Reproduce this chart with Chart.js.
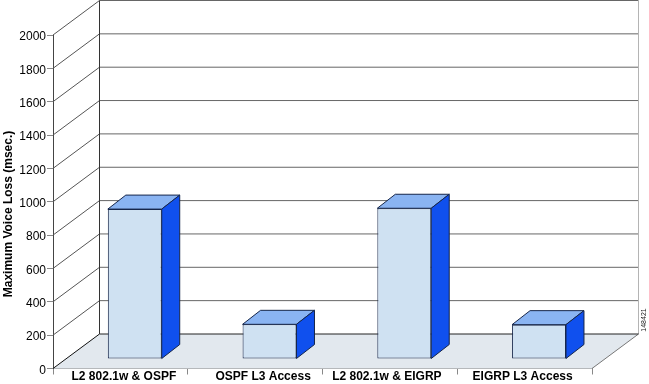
<!DOCTYPE html>
<html>
<head>
<meta charset="utf-8">
<style>
  html, body { margin: 0; padding: 0; background: #fff; }
  canvas { display: block; }
</style>
<script src="https://cdn.jsdelivr.net/npm/chart.js@4"></script>
</head>
<body>
<canvas id="grafico" width="649" height="384"></canvas>
<script>
const categories = ["L2 802.1w & OSPF", "OSPF L3 Access", "L2 802.1w & EIGRP", "EIGRP L3 Access"];
const voiceLoss = [899, 208, 904, 206];
const yTicks = [0, 200, 400, 600, 800, 1000, 1200, 1400, 1600, 1800, 2000];

// depth of the fake 3D box
const DEPTH_X = 46.5, DEPTH_Y = 34.5;
const BAR_OFF_X = 14.4, BAR_OFF_Y = 9.5;
const BAR_DX = 18, BAR_DY = 14;
// the original labels are not quite centred under their ticks
const LABEL_SHIFT = [3.5, 8, -3, -2];

function poly(ctx, pts, fill, stroke) {
  ctx.beginPath();
  pts.forEach((p, i) => i ? ctx.lineTo(p[0], p[1]) : ctx.moveTo(p[0], p[1]));
  ctx.closePath();
  if (fill) { ctx.fillStyle = fill; ctx.fill(); }
  if (stroke) { ctx.strokeStyle = stroke; ctx.lineWidth = 1; ctx.stroke(); }
}

function line(ctx, x1, y1, x2, y2, color) {
  ctx.beginPath();
  ctx.moveTo(x1, y1);
  ctx.lineTo(x2, y2);
  ctx.strokeStyle = color;
  ctx.lineWidth = 1;
  ctx.stroke();
}

// floor, walls and grid lines behind the bars
const walls = {
  id: "walls",
  beforeDatasetsDraw(chart) {
    const { ctx, chartArea: a, scales: { y } } = chart;
    const y0 = y.getPixelForValue(0);
    const topBack = y.getPixelForValue(2000) - DEPTH_Y;
    ctx.save();
    poly(ctx, [[a.left, y0], [a.left + DEPTH_X, y0 - DEPTH_Y], [a.right + DEPTH_X, y0 - DEPTH_Y], [a.right, y0]], "#e2e8ee");
    yTicks.forEach(v => {
      if (v === 0) return;
      const py = y.getPixelForValue(v);
      line(ctx, a.left, py, a.left + DEPTH_X, py - DEPTH_Y, "#555");
      line(ctx, a.left + DEPTH_X, py - DEPTH_Y, a.right + DEPTH_X, py - DEPTH_Y, "#666");
    });
    line(ctx, a.right + DEPTH_X, topBack, a.right + DEPTH_X, y0 - DEPTH_Y, "#b4b4b4");
    line(ctx, a.right, y0, a.right + DEPTH_X, y0 - DEPTH_Y, "#777");
    line(ctx, a.left + DEPTH_X, y0 - DEPTH_Y, a.right + DEPTH_X, y0 - DEPTH_Y, "#222");
    line(ctx, a.left, y0, a.left + DEPTH_X, y0 - DEPTH_Y, "#111");
    line(ctx, a.left + DEPTH_X, topBack, a.left + DEPTH_X, y0 - DEPTH_Y, "#333");
    ctx.restore();
  },
  // the library draws the front face, shifted into the box, and we add top and side
  beforeDatasetDraw(chart, args) {
    const { ctx } = chart;
    ctx.save();
    ctx.translate(BAR_OFF_X, -BAR_OFF_Y);
    args.meta.data.forEach(bar => {
      const l = bar.x - bar.width / 2, r = bar.x + bar.width / 2;
      poly(ctx, [[l, bar.y], [l + BAR_DX, bar.y - BAR_DY], [r + BAR_DX, bar.y - BAR_DY], [r, bar.y]], "#8ab4f2", "#16264a");
      poly(ctx, [[r, bar.y], [r + BAR_DX, bar.y - BAR_DY], [r + BAR_DX, bar.base - BAR_DY], [r, bar.base]], "#1050ee", "#16264a");
    });
  },
  afterDatasetDraw(chart) {
    chart.ctx.restore();
  },
  afterDraw(chart) {
    const { ctx, scales: { x } } = chart;
    ctx.save();
    ctx.fillStyle = "#000";
    ctx.textBaseline = "middle";
    ctx.textAlign = "center";
    ctx.font = "bold 12px 'Liberation Sans'";
    categories.forEach((c, i) => ctx.fillText(c, x.getPixelForValue(i) + LABEL_SHIFT[i], 377));
    ctx.save();
    ctx.translate(9, 214);
    ctx.rotate(-Math.PI / 2);
    ctx.fillText("Maximum Voice Loss (msec.)", 0, 0);
    ctx.restore();
    ctx.translate(644, 320);
    ctx.rotate(-Math.PI / 2);
    ctx.font = "7px 'Liberation Sans'";
    ctx.fillStyle = "#222";
    ctx.fillText("148421", 0, 0);
    ctx.restore();
  }
};

new Chart(document.getElementById("grafico").getContext("2d"), {
  type: "bar",
  data: {
    labels: categories,
    datasets: [{
      data: voiceLoss,
      backgroundColor: "#cfe1f2",
      borderColor: "#16264a",
      borderWidth: 1,
      borderSkipped: false,
      barPercentage: 1,
      categoryPercentage: 0.4
    }]
  },
  options: {
    responsive: false,
    animation: false,
    layout: { padding: { top: 35, right: 57, left: 0, bottom: 0 } },
    plugins: { legend: { display: false }, tooltip: { enabled: false } },
    scales: {
      x: {
        afterFit: s => { s.height = 15.5; },
        border: { color: "#888" },
        grid: { drawOnChartArea: false, color: "#888", tickLength: 6 },
        ticks: { display: false }
      },
      y: {
        min: 0,
        max: 2000,
        afterFit: s => { s.width = 53; },
        afterBuildTicks: s => { s.ticks = yTicks.map(v => ({ value: v })); },
        border: { color: "#444" },
        grid: { drawOnChartArea: false, color: "#888", tickLength: 6 },
        ticks: {
          color: "#000",
          padding: 1,
          labelOffset: 2,
          callback: v => String(v),
          font: { family: "Liberation Sans", size: 12 }
        }
      }
    }
  },
  plugins: [walls]
});
</script>
</body>
</html>
